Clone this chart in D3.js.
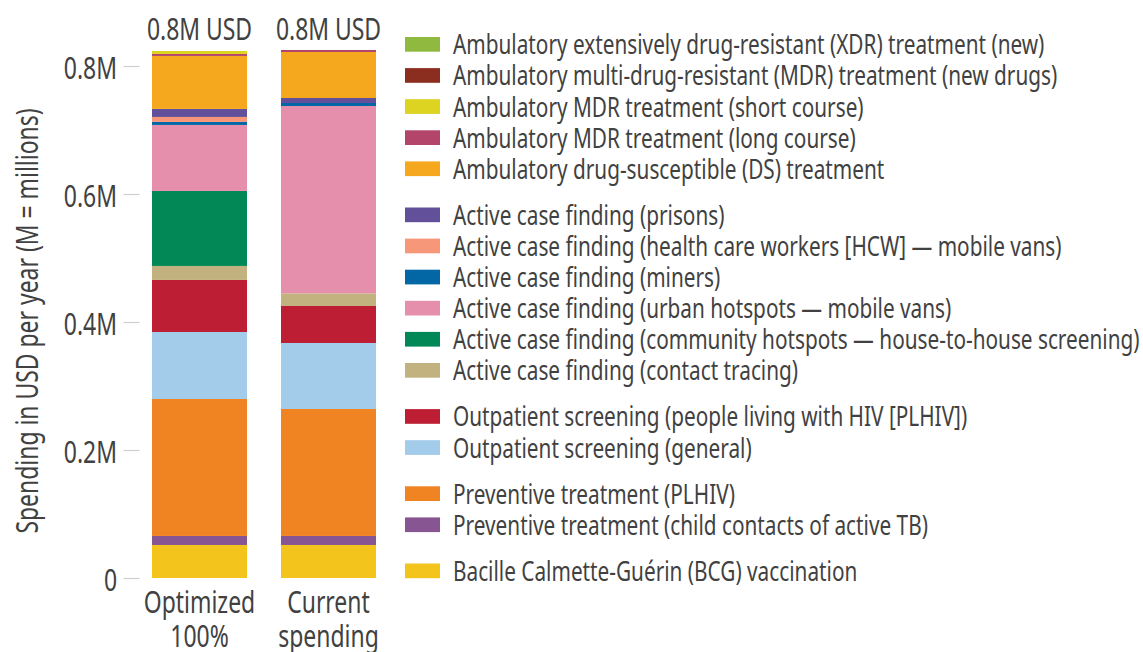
<!DOCTYPE html>
<html><head><meta charset="utf-8">
<script src="https://cdn.jsdelivr.net/npm/d3@7"></script>
<style>body{margin:0;background:#fff} svg{display:block}</style>
</head><body><svg id="c" width="1143" height="652"></svg>
<script>
// ---- DATA ----
const categories = ["Optimized 100%", "Current spending"];
const categoryLines = [["Optimized", "100%"], ["Current", "spending"]];
const totalLabels = ["0.8M USD", "0.8M USD"];

// series listed bottom-to-top of the stack
const seriesNames = [
  "Bacille Calmette-Guérin (BCG) vaccination",
  "Preventive treatment (child contacts of active TB)",
  "Preventive treatment (PLHIV)",
  "Outpatient screening (general)",
  "Outpatient screening (people living with HIV [PLHIV])",
  "Active case finding (contact tracing)",
  "Active case finding (community hotspots — house-to-house screening)",
  "Active case finding (urban hotspots — mobile vans)",
  "Active case finding (miners)",
  "Active case finding (health care workers [HCW] — mobile vans)",
  "Active case finding (prisons)",
  "Ambulatory drug-susceptible (DS) treatment",
  "Ambulatory MDR treatment (long course)",
  "Ambulatory MDR treatment (short course)",
  "Ambulatory multi-drug-resistant (MDR) treatment (new drugs)",
  "Ambulatory extensively drug-resistant (XDR) treatment (new)"
];
const seriesGroups = [5, 4, 4, 3, 3, 2, 2, 2, 2, 2, 2, 1, 1, 1, 1, 1];
const seriesColors = [
  "#f2c41c", "#875692", "#f08322", "#a3cbea", "#be1e33",
  "#c2b280", "#018856", "#e68fac", "#0467a5", "#f7977a", "#62509a",
  "#f5a81e", "#b3456b", "#ddd321", "#8b2e1f", "#8fb93f"
];
// values in millions USD, same order as seriesNames
const optimizedValues = [0.0516, 0.0141, 0.2140, 0.1047, 0.0813, 0.0219, 0.1172, 0.1031, 0.0047, 0.0078, 0.0125, 0.0828, 0.0031, 0.0047, 0, 0];
const currentValues   = [0.0516, 0.0141, 0.1984, 0.1031, 0.0578, 0.0198, 0,      0.2927, 0.0047, 0,      0.0078, 0.0719, 0.0031, 0,      0, 0];

const tickValues = [0, 0.2, 0.4, 0.6, 0.8];
const tickLabels = ["0", "0.2M", "0.4M", "0.6M", "0.8M"];
const yTitle = "Spending in USD per year (M = millions)";

// ---- DRAW ----
const svg = d3.select("#c");
const FONT = "'Noto Sans', 'Open Sans', sans-serif";
const FS = 28;      // legend
const FS2 = 30;     // axis, titles, category labels
const TXT = "#414141";

// compute horizontal condense factor from the longest legend label
const probe = svg.append("text").attr("font-family", FONT).attr("font-size", FS)
  .text(seriesNames[6]);
const natural = probe.node().getComputedTextLength();
probe.remove();
const F = 687 / natural;
const F2 = F * 1.03;

function label(g, x, y, txt, anchor, fs, f) {
  return g.append("text")
    .attr("transform", `translate(${x},${y}) scale(${f || F},1)`)
    .attr("text-anchor", anchor || "start")
    .attr("font-family", FONT).attr("font-size", fs || FS).attr("fill", TXT)
    .text(txt);
}

const y = d3.scaleLinear().domain([0, 0.8]).range([578, 66]);
const x = d3.scaleBand().domain(categories).range([152, 376]).paddingInner(34 / 129).paddingOuter(0);

const rows = categories.map((c, i) => {
  const r = { cat: c };
  seriesNames.forEach((s, j) => r[s] = (i === 0 ? optimizedValues : currentValues)[j]);
  return r;
});
const stacked = d3.stack().keys(seriesNames)(rows);

svg.append("g").selectAll("g").data(stacked).join("g")
  .attr("fill", (d, i) => seriesColors[i])
  .selectAll("rect").data(d => d).join("rect")
  .attr("x", d => x(d.data.cat))
  .attr("width", x.bandwidth())
  .attr("y", d => y(d[1]))
  .attr("height", d => Math.max(0, y(d[0]) - y(d[1])));

// axis
const axis = d3.axisLeft(y).tickValues(tickValues).tickFormat((d, i) => tickLabels[i]).tickSize(16);
const ag = svg.append("g").attr("transform", "translate(139.5,0)").call(axis);
ag.select(".domain").remove();
ag.selectAll(".tick line").attr("stroke", "#cfcfcf").attr("stroke-width", 1.2);
ag.selectAll(".tick text")
  .attr("x", null).attr("dy", null)
  .attr("transform", `translate(-22.5,12.5) scale(${F2},1)`)
  .attr("font-family", FONT).attr("font-size", FS2).attr("fill", TXT)
  .attr("text-anchor", "end");

// y title
svg.append("text")
  .attr("transform", `translate(38,321) rotate(-90) scale(${F2},1)`)
  .attr("text-anchor", "middle")
  .attr("font-family", FONT).attr("font-size", FS2).attr("fill", TXT)
  .text(yTitle);

// totals and category labels
categories.forEach((c, i) => {
  const cx = x(c) + x.bandwidth() / 2;
  label(svg, cx, 40, totalLabels[i], "middle", FS2, F2);
  categoryLines[i].forEach((ln, k) => label(svg, cx, 613 + k * 34, ln, "middle", FS2, F2));
});

// legend (top-to-bottom = reverse stack order)
const leg = svg.append("g");
let yc = 44.3;
const order = d3.range(seriesNames.length).reverse();
order.forEach((j, k) => {
  if (k > 0 && seriesGroups[j] !== seriesGroups[order[k - 1]]) yc += 15;
  leg.append("rect").attr("x", 405).attr("y", yc - 7.3).attr("width", 35).attr("height", 14.7)
    .attr("fill", seriesColors[j]);
  label(leg, 453, yc + 10, seriesNames[j]);
  yc += 31.1;
});
</script>
</body></html>
